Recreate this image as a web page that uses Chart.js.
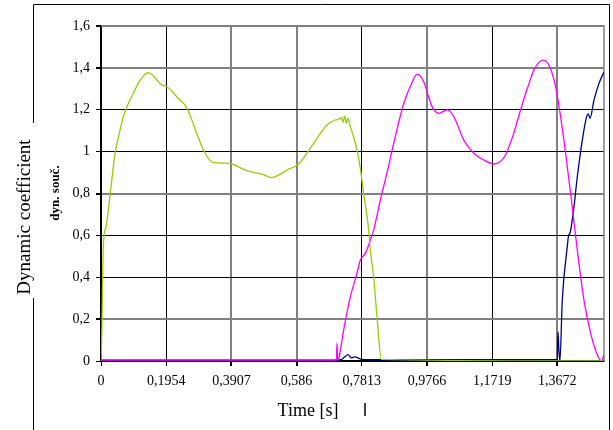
<!DOCTYPE html>
<html>
<head>
<meta charset="utf-8">
<script src="https://cdn.jsdelivr.net/npm/chart.js@4.4.1/dist/chart.umd.min.js"></script>
<style>
  body { margin: 0; background: #fff; }
  #wrap { position: relative; width: 613px; height: 430px; }
</style>
</head>
<body>
<div id="wrap"><canvas id="dynChart" width="613" height="430"></canvas></div>
<script>
// x ticks (time in s) and their printed labels
const tickValues = [0, 0.1954, 0.3907, 0.586, 0.7813, 0.9766, 1.1719, 1.3672];
const tickLabels = ['0', '0,1954', '0,3907', '0,586', '0,7813', '0,9766', '1,1719', '1,3672'];

// green axle
const greenT = [0, 0.002, 0.007, 0.015, 0.027, 0.042, 0.055, 0.067, 0.082, 0.097, 0.117, 0.137, 0.142, 0.155, 0.167,
  0.182, 0.197, 0.212, 0.227, 0.255, 0.27, 0.287, 0.312, 0.337, 0.37, 0.392, 0.415, 0.437, 0.46, 0.482, 0.512,
  0.535, 0.557, 0.592, 0.627, 0.652, 0.677, 0.7, 0.717, 0.72, 0.725, 0.73, 0.735, 0.74, 0.747, 0.757, 0.767,
  0.777, 0.787, 0.802, 0.807, 0.817, 0.827, 0.84, 1.507];
const greenV = [0, 0.1, 0.55, 0.64, 0.79, 0.99, 1.09, 1.168, 1.23, 1.28, 1.34, 1.375, 1.377, 1.365, 1.343,
  1.318, 1.31, 1.29, 1.262, 1.215, 1.16, 1.087, 0.992, 0.947, 0.945, 0.941, 0.925, 0.909, 0.9, 0.893, 0.876,
  0.89, 0.912, 0.941, 1.016, 1.075, 1.127, 1.15, 1.159, 1.165, 1.14, 1.17, 1.135, 1.16, 1.119, 1.07, 1.008,
  0.92, 0.8, 0.626, 0.53, 0.4, 0.21, 0.008, 0];

// magenta axle
const pinkT = [0, 0.705, 0.707, 0.709, 0.712, 0.727, 0.747, 0.767, 0.777, 0.792, 0.807, 0.817, 0.837, 0.857,
  0.877, 0.907, 0.932, 0.947, 0.967, 0.98, 0.992, 1.012, 1.037, 1.057, 1.087, 1.117, 1.147, 1.177, 1.195, 1.212,
  1.235, 1.257, 1.277, 1.297, 1.312, 1.322, 1.342, 1.362, 1.377, 1.392, 1.407, 1.427, 1.447, 1.467, 1.482,
  1.492, 1.5, 1.507];
const pinkV = [0.004, 0.004, 0.085, 0.004, 0.01, 0.148, 0.307, 0.419, 0.482, 0.514, 0.578, 0.626, 0.769, 0.9,
  1.04, 1.23, 1.33, 1.37, 1.334, 1.27, 1.215, 1.183, 1.199, 1.167, 1.055, 0.992, 0.96, 0.941, 0.95, 0.984,
  1.08, 1.199, 1.3, 1.39, 1.425, 1.437, 1.414, 1.31, 1.167, 0.992, 0.8, 0.53, 0.291, 0.132, 0.05,
  0.013, 0, 0.03];

// navy axle
const navyT = [0, 0.7, 0.72, 0.73, 0.74, 0.75, 0.76, 0.78, 0.8, 1.365, 1.367, 1.369, 1.372, 1.375, 1.382, 1.397,
  1.401, 1.405, 1.417, 1.427, 1.442, 1.455, 1.46, 1.465, 1.477, 1.492, 1.507];
const navyV = [0.004, 0.004, 0.006, 0.02, 0.03, 0.015, 0.02, 0.008, 0.006, 0.006, 0, 0.14, 0.05, 0, 0.29, 0.546,
  0.6, 0.61, 0.737, 0.88, 1.055, 1.167, 1.18, 1.159, 1.246, 1.326, 1.38];

function pts(ts, vs) {
  return ts.map((t, i) => ({ x: t, y: vs[i] }));
}

const serif = '"Liberation Serif", "Times New Roman", serif';

// frame round the whole picture and the loose titles
const framePlugin = {
  id: 'frame',
  beforeDatasetsDraw(chart) {
    const { ctx, chartArea: a } = chart;
    ctx.save();
    ctx.strokeStyle = '#808080';
    ctx.lineWidth = 1.5;
    ctx.beginPath();
    ctx.moveTo(a.left, a.top);
    ctx.lineTo(a.right, a.top);
    ctx.lineTo(a.right, a.bottom);
    ctx.stroke();
    ctx.restore();
  },
  afterDraw(chart) {
    const ctx = chart.ctx;
    ctx.save();
    ctx.strokeStyle = '#000';
    ctx.lineWidth = 1;
    ctx.beginPath();
    ctx.moveTo(33.5, 123);
    ctx.lineTo(33.5, 4.5);
    ctx.lineTo(609.5, 4.5);
    ctx.lineTo(609.5, 430);
    ctx.moveTo(33.5, 298);
    ctx.lineTo(33.5, 430);
    ctx.stroke();

    ctx.fillStyle = '#000';
    ctx.textAlign = 'center';
    ctx.textBaseline = 'middle';

    ctx.save();
    ctx.translate(25, 217);
    ctx.rotate(-Math.PI / 2);
    ctx.font = '19px ' + serif;
    ctx.fillText('Dynamic coefficient', 0, 0);
    ctx.restore();

    ctx.save();
    ctx.translate(56, 193);
    ctx.rotate(-Math.PI / 2);
    ctx.font = 'bold 13px ' + serif;
    ctx.fillText('dyn. souč.', 0, 0);
    ctx.restore();

    ctx.font = '18px ' + serif;
    ctx.fillText('Time [s]', 308, 411);

    ctx.lineWidth = 1.5;
    ctx.beginPath();
    ctx.moveTo(365, 403);
    ctx.lineTo(365, 416);
    ctx.stroke();
    ctx.restore();
  }
};

const grayY = [1.6, 1.4, 0.8, 0.2];
const grayX = [0.3907, 0.586, 0.9766, 1.3672];

function line(label, data, color) {
  return {
    label: label,
    data: data,
    borderColor: color,
    borderWidth: 1.3,
    pointRadius: 0,
    fill: false,
    cubicInterpolationMode: 'monotone'
  };
}

new Chart(document.getElementById('dynChart'), {
  type: 'line',
  data: {
    datasets: [
      line('green', pts(greenT, greenV), '#99cc00'),
      line('magenta', pts(pinkT, pinkV), '#ff00ff'),
      line('navy', pts(navyT, navyV), '#000080')
    ]
  },
  options: {
    responsive: false,
    animation: false,
    layout: { padding: { left: 0, right: 9, top: 26, bottom: 0 } },
    plugins: { legend: { display: false }, tooltip: { enabled: false } },
    scales: {
      x: {
        type: 'linear',
        min: 0,
        max: 1.507,
        afterFit: s => { s.height = 69; },
        afterBuildTicks: s => { s.ticks = tickValues.map(v => ({ value: v })); },
        grid: {
          color: c => grayX.includes(c.tick && c.tick.value) ? '#808080' : '#000',
          lineWidth: c => grayX.includes(c.tick && c.tick.value) ? 2 : 1,
          tickColor: '#000',
          tickLength: 5
        },
        border: { color: '#000', width: 1.5 },
        ticks: {
          autoSkip: false,
          maxRotation: 0,
          padding: 7,
          color: '#000',
          font: { family: serif, size: 14 },
          callback: (v, i) => tickLabels[i]
        }
      },
      y: {
        min: 0,
        max: 1.6,
        afterFit: s => { s.width = 101; },
        grid: {
          color: c => grayY.includes(Math.round(c.tick.value * 10) / 10) ? '#808080' : '#000',
          lineWidth: c => grayY.includes(Math.round(c.tick.value * 10) / 10) ? 2 : 1,
          tickColor: '#000',
          tickLength: 5
        },
        border: { color: '#000', width: 2 },
        ticks: {
          stepSize: 0.2,
          padding: 6,
          color: '#000',
          font: { family: serif, size: 14 },
          callback: v => String(Math.round(v * 10) / 10).replace('.', ',')
        }
      }
    }
  },
  plugins: [framePlugin]
});
</script>
</body>
</html>
